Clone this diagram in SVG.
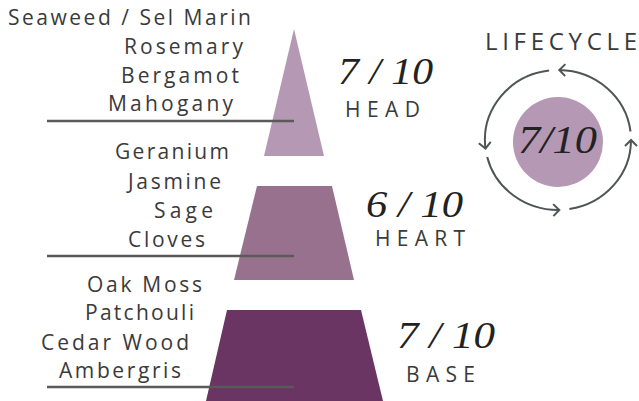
<svg xmlns="http://www.w3.org/2000/svg" width="639" height="401" viewBox="0 0 639 401">
<defs>
<style>
.note{font-family:"Open Sans",Lato,sans-serif;font-size:21px;fill:#3a3a3a;}
.score{font-family:"Liberation Serif",serif;font-style:italic;font-size:37px;fill:#222;}
.lab{font-family:"Open Sans",Lato,sans-serif;font-size:21px;fill:#3a3a3a;}
.rule{stroke:#5a5a5a;stroke-width:2.5;fill:none;}
.ring{stroke:#4f5555;stroke-width:2;fill:none;marker-end:url(#chev);}
</style>
<marker id="chev" markerUnits="userSpaceOnUse" markerWidth="20" markerHeight="20" viewBox="-10 -10 20 20" refX="0" refY="0" orient="auto" overflow="visible">
<path d="M-6,-6 L0,0 L-6,6" fill="none" stroke="#4f5555" stroke-width="2"/>
</marker>
</defs>
<rect width="639" height="401" fill="#fff"/>
<g id="head">
<polygon points="294,29 324,156 264,156" fill="#b598b4"/>
<text class="note" x="8" y="25" textLength="243" lengthAdjust="spacing">Seaweed / Sel Marin</text>
<text class="note" x="124" y="54" textLength="119" lengthAdjust="spacing">Rosemary</text>
<text class="note" x="121" y="83" textLength="118" lengthAdjust="spacing">Bergamot</text>
<text class="note" x="108" y="111" textLength="125" lengthAdjust="spacing">Mahogany</text>
<line class="rule" x1="47" y1="121" x2="294" y2="121"/>
<text class="score" x="338" y="84" textLength="95" lengthAdjust="spacingAndGlyphs">7 / 10</text>
<text class="lab" x="345" y="117" textLength="75" lengthAdjust="spacing">HEAD</text>
</g>
<g id="heart">
<polygon points="257,186 332,186 354,280 234,280" fill="#98718f"/>
<text class="note" x="115" y="159" textLength="114" lengthAdjust="spacing">Geranium</text>
<text class="note" x="128" y="189" textLength="93" lengthAdjust="spacing">Jasmine</text>
<text class="note" x="154" y="218" textLength="59" lengthAdjust="spacing">Sage</text>
<text class="note" x="128" y="247" textLength="77" lengthAdjust="spacing">Cloves</text>
<line class="rule" x1="47" y1="256" x2="294" y2="256"/>
<text class="score" x="366" y="217" textLength="97" lengthAdjust="spacingAndGlyphs">6 / 10</text>
<text class="lab" x="375" y="246" textLength="90" lengthAdjust="spacing">HEART</text>
</g>
<g id="base">
<polygon points="227,310 361,310 383,401 206,401" fill="#6b3563"/>
<text class="note" x="87" y="292" textLength="115" lengthAdjust="spacing">Oak Moss</text>
<text class="note" x="85" y="320" textLength="109" lengthAdjust="spacing">Patchouli</text>
<text class="note" x="41" y="350" textLength="148" lengthAdjust="spacing">Cedar Wood</text>
<text class="note" x="59" y="378" textLength="122" lengthAdjust="spacing">Ambergris</text>
<line class="rule" x1="47" y1="387" x2="294" y2="387"/>
<text class="score" x="397" y="348" textLength="98" lengthAdjust="spacingAndGlyphs">7 / 10</text>
<text class="lab" x="406" y="382" textLength="69" lengthAdjust="spacing">BASE</text>
</g>
<g id="lifecycle">
<text class="lab" x="485" y="50" style="font-size:24px" textLength="152" lengthAdjust="spacing">LIFECYCLE</text>
<circle cx="558" cy="142" r="45" fill="#b598b4"/>
<text class="score" x="518" y="153" style="font-size:40px" textLength="79" lengthAdjust="spacingAndGlyphs">7/10</text>
</g>
<g id="connectors">
<path class="ring" d="M549.1,70.5 A73,70 0 0 0 485.5,148.5"/>
<path class="ring" d="M487.2,156.9 A73,70 0 0 0 559.3,210"/>
<path class="ring" d="M569.4,209.1 A73,70 0 0 0 631,140"/>
<path class="ring" d="M630.5,131.5 A73,70 0 0 0 559.3,70"/>
</g>
</svg>
